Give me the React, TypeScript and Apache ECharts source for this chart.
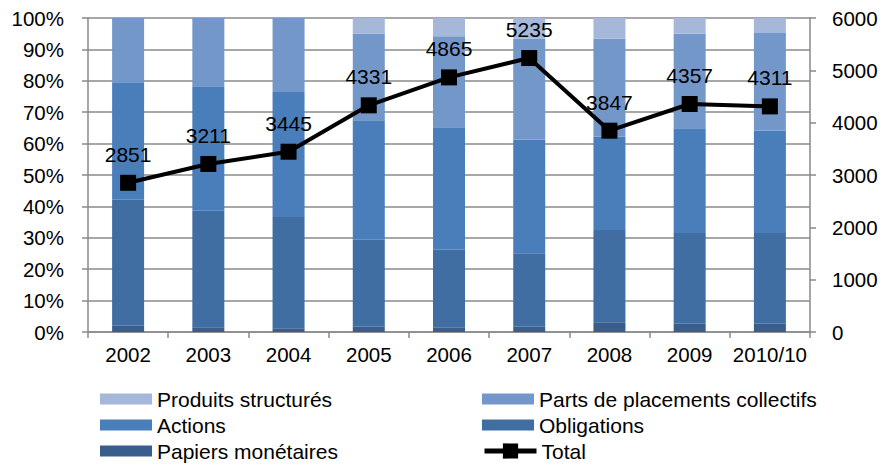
import React, { useEffect, useRef } from "react";
import * as echarts from "echarts";

const categories = ["2002", "2003", "2004", "2005", "2006", "2007", "2008", "2009", "2010/10"];
const papiersMonetaires = [2.0, 1.5, 1.2, 1.7, 1.5, 1.7, 3.1, 2.6, 2.6];
const obligations = [40.1, 37.1, 35.4, 27.7, 24.7, 23.4, 29.4, 28.9, 28.9];
const actions = [37.4, 39.7, 39.8, 38.0, 39.0, 36.2, 29.8, 33.4, 32.7];
const partsPlacements = [20.5, 21.7, 23.6, 27.7, 29.0, 32.2, 31.1, 30.1, 31.0];
const produitsStructures = [0, 0, 0, 4.9, 5.8, 6.5, 6.6, 5.0, 4.8];
const total = [2851, 3211, 3445, 4331, 4865, 5235, 3847, 4357, 4311];

const legendLayout = [
  { name: "Produits structurés", col: 0, row: 0 },
  { name: "Parts de placements collectifs", col: 1, row: 0 },
  { name: "Actions", col: 0, row: 1 },
  { name: "Obligations", col: 1, row: 1 },
  { name: "Papiers monétaires", col: 0, row: 2 },
  { name: "Total", col: 1, row: 2 },
];

const FONT = "'Liberation Sans', Arial, sans-serif";
const GRID_COLOR = "#8a8a8a";
const FS = 21;

export default function App() {
  const ref = useRef<HTMLDivElement>(null);
  useEffect(() => {
    if (!ref.current) return;
    const chart = echarts.init(ref.current, null, { renderer: "svg" });
    const bar = (name: string, data: number[], color: string) => ({
      name,
      type: "bar",
      stack: "pct",
      data,
      barWidth: 32,
      itemStyle: { color },
      emphasis: { disabled: true },
    });
    const colX = [100, 482];
    const rowY = [388, 414, 440];
    chart.setOption({
      animation: false,
      textStyle: { fontFamily: FONT },
      grid: { left: 88, right: 83, top: 18, bottom: 134, containLabel: false },
      xAxis: {
        type: "category",
        data: categories,
        axisLine: { lineStyle: { color: GRID_COLOR, width: 1.5 } },
        axisTick: { show: true, length: 6, lineStyle: { color: GRID_COLOR, width: 1.5 } },
        axisLabel: { color: "#000", fontSize: 20.5, fontFamily: FONT, margin: 12, interval: 0 },
      },
      yAxis: [
        {
          type: "value",
          min: 0,
          max: 100,
          interval: 10,
          axisLine: { show: true, lineStyle: { color: GRID_COLOR, width: 1.5 } },
          axisTick: { show: true, length: 6, lineStyle: { color: GRID_COLOR, width: 1.5 } },
          axisLabel: { color: "#000", fontSize: 20.5, fontFamily: FONT, margin: 24, formatter: "{value}%" },
          splitLine: { lineStyle: { color: GRID_COLOR, width: 1.5 } },
        },
        {
          type: "value",
          min: 0,
          max: 6000,
          interval: 1000,
          position: "right",
          axisLine: { show: true, lineStyle: { color: GRID_COLOR, width: 1.5 } },
          axisTick: { show: true, length: 6, lineStyle: { color: GRID_COLOR, width: 1.5 } },
          axisLabel: {
            color: "#000",
            fontSize: 20.5,
            fontFamily: FONT,
            margin: 22,
            formatter: (v: number) => String(v),
          },
          splitLine: { show: false },
        },
      ],
      legend: legendLayout.map((l) => {
        const isLine = l.name === "Total";
        return {
          left: colX[l.col],
          top: rowY[l.row],
          itemWidth: 52,
          itemHeight: isLine ? 19 : 11,
          padding: 0,
          textStyle: { color: "#000", fontSize: FS, fontFamily: FONT, lineHeight: 22 },
          data: [
            isLine
              ? { name: l.name, lineStyle: { width: 5, color: "#000" } }
              : { name: l.name, icon: "rect" },
          ],
        };
      }),
      series: [
        bar("Papiers monétaires", papiersMonetaires, "#3a5e8c"),
        bar("Obligations", obligations, "#416ea2"),
        bar("Actions", actions, "#4a7ebb"),
        bar("Parts de placements collectifs", partsPlacements, "#7397c9"),
        bar("Produits structurés", produitsStructures, "#a5b8da"),
        {
          name: "Total",
          type: "line",
          yAxisIndex: 1,
          data: total,
          symbol: "rect",
          symbolSize: 16,
          itemStyle: { color: "#000" },
          lineStyle: { color: "#000", width: 4 },
          emphasis: { disabled: true },
          label: {
            show: true,
            position: "top",
            distance: 10,
            color: "#000",
            fontSize: FS,
            fontFamily: FONT,
          },
          z: 10,
        },
      ],
    });
    return () => chart.dispose();
  }, []);
  return (
    <div
      ref={ref}
      style={{ position: "absolute", left: 0, top: 0, width: 893, height: 466, background: "#fff" }}
    />
  );
}
